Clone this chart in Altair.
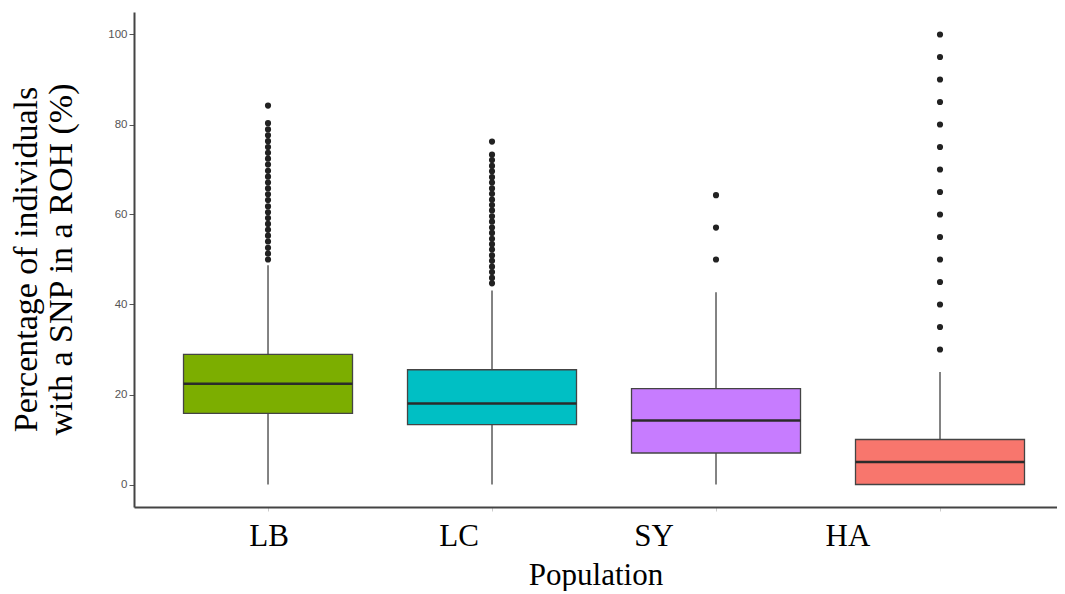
import altair as alt
import pandas as pd

populations = ["LB", "LC", "SY", "HA"]
colors = ["#7CAE00", "#00BFC4", "#C77CFF", "#F8766D"]

whisker_low = [0.0, 0.0, 0.0, 0.0]
q1 = [15.8, 13.3, 7.0, 0.0]
median = [22.4, 18.0, 14.2, 5.0]
q3 = [28.9, 25.5, 21.3, 10.0]
whisker_high = [48.7, 43.1, 42.7, 25.0]

outliers_LB = [50.0, 51.3, 52.6, 54.0, 55.3, 56.6, 57.9, 59.2, 60.5, 61.8, 63.2, 64.5,
               65.8, 67.1, 68.4, 69.7, 71.1, 72.4, 73.7, 75.0, 76.3, 77.6, 78.9, 80.3, 84.2]
outliers_LC = [44.7, 45.9, 47.2, 48.4, 49.7, 50.9, 52.2, 53.4, 54.6, 55.9, 57.1, 58.4,
               59.6, 60.9, 62.1, 63.3, 64.6, 65.8, 67.1, 68.3, 69.6, 70.8, 72.1, 73.3, 76.2]
outliers_SY = [50.0, 57.1, 64.3]
outliers_HA = [30, 35, 40, 45, 50, 55, 60, 65, 70, 75, 80, 85, 90, 95, 100]

y_ticks = [0, 20, 40, 60, 80, 100]
x_title = "Population"
y_title = ["Percentage of individuals", "with a SNP in a ROH (%)"]

stats = pd.DataFrame({
    "Population": populations,
    "lo": whisker_low, "q1": q1, "med": median, "q3": q3, "hi": whisker_high,
})
out_rows = []
for pop, vals in zip(populations, [outliers_LB, outliers_LC, outliers_SY, outliers_HA]):
    for v in vals:
        out_rows.append({"Population": pop, "value": v})
outliers = pd.DataFrame(out_rows)

SERIF = "Liberation Serif"
SANS = "Liberation Sans"

x_enc = alt.X(
    "Population:N",
    sort=populations,
    scale=alt.Scale(type="band", paddingInner=0, paddingOuter=0.0603, align=0.815),
    axis=alt.Axis(
        title=x_title,
        titleFont=SERIF, titleFontSize=31, titleFontWeight="normal", titleColor="black",
        titleY=77, titleBaseline="alphabetic",
        labelFont=SERIF, labelFontSize=31, labelColor="black", labelAngle=0,
        labelPadding=10,
        labelOffset={"condition": [
            {"test": "datum.value === 'LC'", "value": -33},
            {"test": "datum.value === 'SY'", "value": -62},
            {"test": "datum.value === 'HA'", "value": -92},
        ], "value": 1},
        tickSize=4, tickColor="#cccccc", tickWidth=1,
        domainColor="#444444", domainWidth=2,
    ),
)

y_scale = alt.Scale(domain=[-5, 105], nice=False, zero=False)
y_axis = alt.Axis(
    values=y_ticks,
    title=y_title,
    titleFont=SERIF, titleFontSize=34, titleFontWeight="normal", titleColor="black",
    titleAngle=-90, titleAlign="center", titleBaseline="middle",
    titleLineHeight=35, titleX=-108, titleY=247,
    labelFont=SANS, labelFontSize=11.5, labelColor="#555555", labelPadding=2,
    tickSize=5, tickColor="#555555", tickWidth=1,
    domainColor="#444444", domainWidth=2, grid=False,
)

color_enc = alt.Color("Population:N", scale=alt.Scale(domain=populations, range=colors), legend=None)

base = alt.Chart(stats)

whiskers = base.mark_rule(color="#5a5a5a", strokeWidth=1.5).encode(
    x=x_enc,
    y=alt.Y("lo:Q", scale=y_scale, axis=y_axis),
    y2="hi:Q",
)

boxes = base.mark_bar(size=169, stroke="#444444", strokeWidth=1.3).encode(
    x=x_enc,
    y=alt.Y("q1:Q", scale=y_scale, axis=y_axis),
    y2="q3:Q",
    color=color_enc,
)

medians = base.mark_tick(size=169, thickness=2.5, color="#2b2b2b", opacity=1).encode(
    x=x_enc,
    y=alt.Y("med:Q", scale=y_scale, axis=y_axis),
)

points = alt.Chart(outliers).mark_circle(size=38, color="#222222", opacity=1).encode(
    x=x_enc,
    y=alt.Y("value:Q", scale=y_scale, axis=y_axis),
)

chart = alt.layer(whiskers, boxes, medians, points).properties(
    width=923,
    height=495,
    autosize=alt.AutoSizeParams(type="none"),
    padding={"left": 126, "top": 4, "right": 0, "bottom": 84},
    background="white",
).configure_view(stroke=None)

chart.save("out.html", embed_options={"renderer": "svg", "actions": False})
